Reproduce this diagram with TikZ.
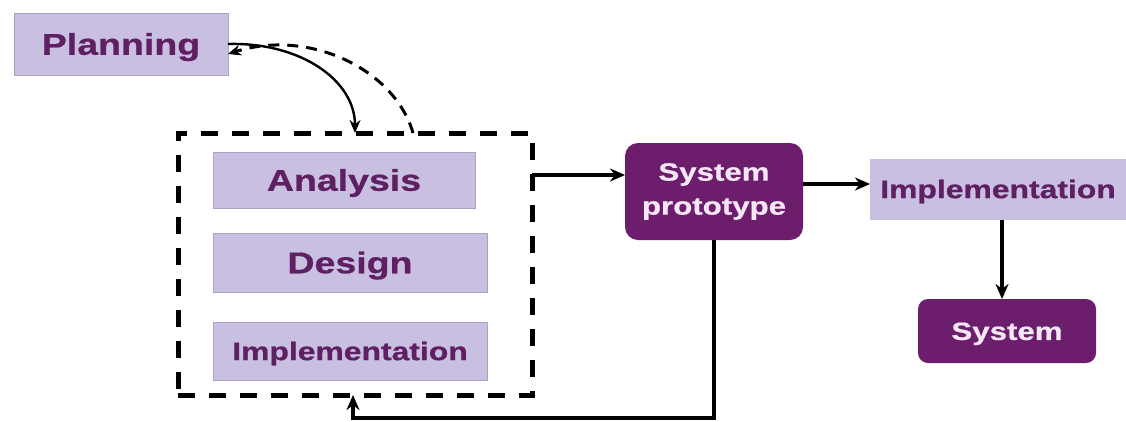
\documentclass[tikz,border=0pt]{standalone}
\usepackage{fontspec}
\setmainfont{Liberation Sans}[BoldFeatures={FakeBold=0.6}]
\usepackage{graphicx}
\usetikzlibrary{arrows.meta}
\definecolor{lightbox}{HTML}{C9BFE1}
\definecolor{lightedge}{HTML}{ADA2C6}
\definecolor{darkbox}{HTML}{6C1D6C}
\definecolor{darktext}{HTML}{5E1F63}
\definecolor{palettext}{HTML}{F6E6F6}
% letters a little wider than the plain face
\newcommand\wtxt[1]{\scalebox{1.25}[1]{#1}}
\newcommand\fsz[1]{\fontsize{#1}{#1}\selectfont\bfseries}
\tikzset{
  phase/.style={draw=lightedge, line width=0.8pt, fill=lightbox, text=darktext,
    inner sep=0pt, outer sep=0pt, text depth=0pt},
  result/.style={fill=darkbox, text=palettext, rounded corners=13pt,
    inner sep=0pt, outer sep=0pt, align=center},
  group/.style={draw=black, line width=5pt, dash pattern=on 17pt off 14pt,
    inner sep=0pt, outer sep=0pt},
  flow/.style={line width=3.5pt, -{Stealth[length=15pt,width=13pt]}},
  thinflow/.style={line width=2.4pt, -{Stealth[length=13pt,width=11pt]}},
  backflow/.style={line width=3pt, dash pattern=on 11pt off 8pt, -{Stealth[length=13pt,width=11pt]}},
}
\begin{document}
\begin{tikzpicture}[x=1pt, y=-1pt]
\useasboundingbox (0,0) rectangle (1126,421);

% planning and the iterative block
\node[phase, minimum width=214pt, minimum height=62pt, font=\fsz{30}, text height=21.5pt] (plan) at (121,44) {\wtxt{Planning}};
\node[group, minimum width=354pt, minimum height=262pt] (grp) at (355,264) {};
\node[phase, minimum width=262pt, minimum height=56pt, font=\fsz{30}, text height=21.5pt] (ana) at (344,180) {\wtxt{Analysis}};
\node[phase, minimum width=274pt, minimum height=59pt, font=\fsz{30}, text height=21.5pt] (des) at (350,262.5) {\wtxt{Design}};
\node[phase, minimum width=274pt, minimum height=58pt, font=\fsz{25.5}, text height=18.3pt] (imp) at (350,351) {\wtxt{Implementation}};

% prototype and final system
\node[result, minimum width=178pt, minimum height=97pt, font=\fsz{25}] (proto) at (714,191.5)
  {\wtxt{System}\\[9pt]\wtxt{prototype}};
\node[phase, minimum width=256pt, minimum height=61pt, draw=none, font=\fsz{25.5}, text height=18.3pt] (impR) at (998,189) {\wtxt{Implementation}};
\node[result, minimum width=178pt, minimum height=64pt, rounded corners=10pt, font=\fsz{25}, text height=17.9pt, text depth=0pt] (sys) at (1007,331) {\wtxt{System}};

% helper points for the straight connectors
\coordinate (y1) at (0,175);
\coordinate (y2) at (0,184);
\coordinate (xd) at (1002,0);
\coordinate (ret) at (353,418);

% connectors
\draw[thinflow] (plan.east) .. controls (300,42) and (355,80) .. (grp.north);
\draw[backflow] ([xshift=58pt]grp.north) .. controls (395,70) and (310,28) .. ([yshift=-10pt]plan.east);
\draw[flow] (grp.east |- y1) -- (proto.west |- y1);
\draw[flow] (proto.east |- y2) -- (impR.west |- y2);
\draw[flow] (impR.south -| xd) -- (sys.north -| xd);
\draw[flow] (proto.south) -- (proto.south |- ret) -- (ret) -- (ret |- grp.south);
\end{tikzpicture}
\end{document}
